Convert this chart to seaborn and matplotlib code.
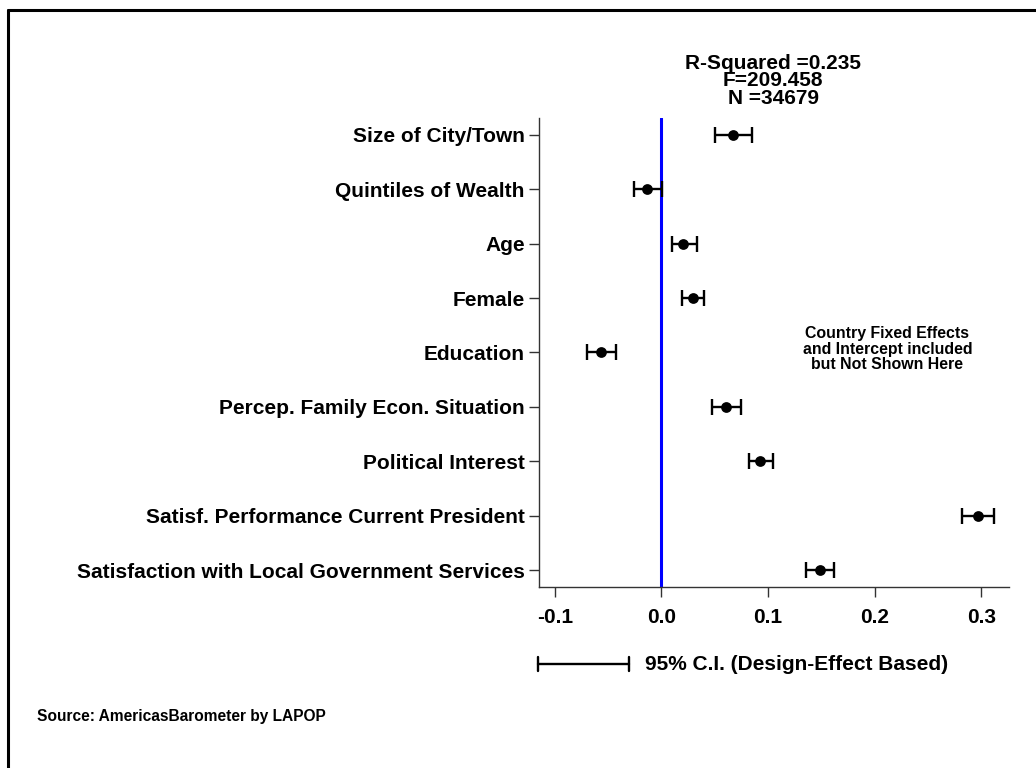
import numpy as np
import pandas as pd
import matplotlib
matplotlib.use("Agg")
import matplotlib.pyplot as plt
import seaborn as sns
from matplotlib.lines import Line2D

labels = ["Size of City/Town", "Quintiles of Wealth", "Age", "Female", "Education",
          "Percep. Family Econ. Situation", "Political Interest",
          "Satisf. Performance Current President",
          "Satisfaction with Local Government Services"]
coef = [0.0676, -0.0131, 0.0207, 0.0294, -0.0563, 0.0605, 0.0927, 0.2967, 0.1484]
ci_low = [0.0507, -0.0256, 0.0097, 0.0191, -0.0695, 0.0479, 0.0817, 0.2820, 0.1356]
ci_high = [0.0849, 0.0003, 0.0332, 0.0401, -0.0425, 0.0748, 0.1042, 0.3115, 0.1622]
xticks = [-0.1, 0.0, 0.1, 0.2, 0.3]

df = pd.DataFrame({"label": labels, "coef": coef, "lo": ci_low, "hi": ci_high})
df["pos"] = np.arange(len(df))

sns.set_style("white")
plt.rcParams['font.family'] = ['Liberation Sans', 'DejaVu Sans']
plt.rcParams['font.weight'] = 'bold'
plt.rcParams['text.color'] = 'black'
plt.rcParams['xtick.labelcolor'] = 'black'
plt.rcParams['ytick.labelcolor'] = 'black'

fig = plt.figure(figsize=(10.36, 7.68), dpi=100)
ax = fig.add_axes([0.520, 0.2357, 0.454, 0.6107])

ax.axvline(0, color="#0000ff", lw=2.2, zorder=1)
ax.errorbar(df["coef"], df["pos"],
            xerr=[df["coef"] - df["lo"], df["hi"] - df["coef"]],
            fmt="none", ecolor="black", elinewidth=1.7, capsize=5.5, capthick=1.7, zorder=2)
sns.scatterplot(data=df, x="coef", y="pos", color="black", s=60, edgecolor="black",
                linewidth=0, ax=ax, zorder=3)

ax.set_xlim(-0.115, 0.326)
ax.set_ylim(8.31, -0.31)
ax.set_yticks(df["pos"])
ax.set_yticklabels(df["label"], fontsize=15, fontweight="bold")
ax.set_xticks(xticks)
ax.set_xticklabels([f"{t:.1f}" for t in xticks], fontsize=15, fontweight="bold")
ax.tick_params(axis="both", length=7, width=1, color="#333333", direction="out",
               left=True, bottom=True, pad=3)
ax.tick_params(axis="x", pad=8)
ax.set_xlabel("")
ax.set_ylabel("")
sns.despine(ax=ax)
for s in ["left", "bottom"]:
    ax.spines[s].set_color("#333333")
    ax.spines[s].set_linewidth(1)

ax.text(0.105, -0.99, "R-Squared =0.235\nF=209.458\nN =34679", ha="center", va="center",
        fontsize=15, fontweight="bold", linespacing=0.93)
ax.text(0.212, 3.94, "Country Fixed Effects\nand Intercept included\nbut Not Shown Here",
        ha="center", va="center", fontsize=11.4, fontweight="bold", linespacing=1.05)

# CI legend
fig.add_artist(Line2D([538 / 1036, 629 / 1036], [1 - 664 / 768] * 2, color="black", lw=1.7))
for xp in [538, 629]:
    fig.add_artist(Line2D([xp / 1036] * 2, [1 - 657 / 768, 1 - 671 / 768], color="black", lw=1.7))
fig.text(645 / 1036, 1 - 664 / 768, "95% C.I. (Design-Effect Based)", ha="left", va="center",
         fontsize=15, fontweight="bold")
fig.text(37 / 1036, 1 - 716 / 768, "Source: AmericasBarometer by LAPOP", ha="left", va="center",
         fontsize=11.2, fontweight="bold")

# outer frame (left and top visible)
fig.add_artist(Line2D([8 / 1036, 8 / 1036], [0, 1 - 10 / 768], color="black", lw=2.2))
fig.add_artist(Line2D([8 / 1036, 1], [1 - 10 / 768, 1 - 10 / 768], color="black", lw=2.2))

fig.savefig("out.png", dpi=100)
